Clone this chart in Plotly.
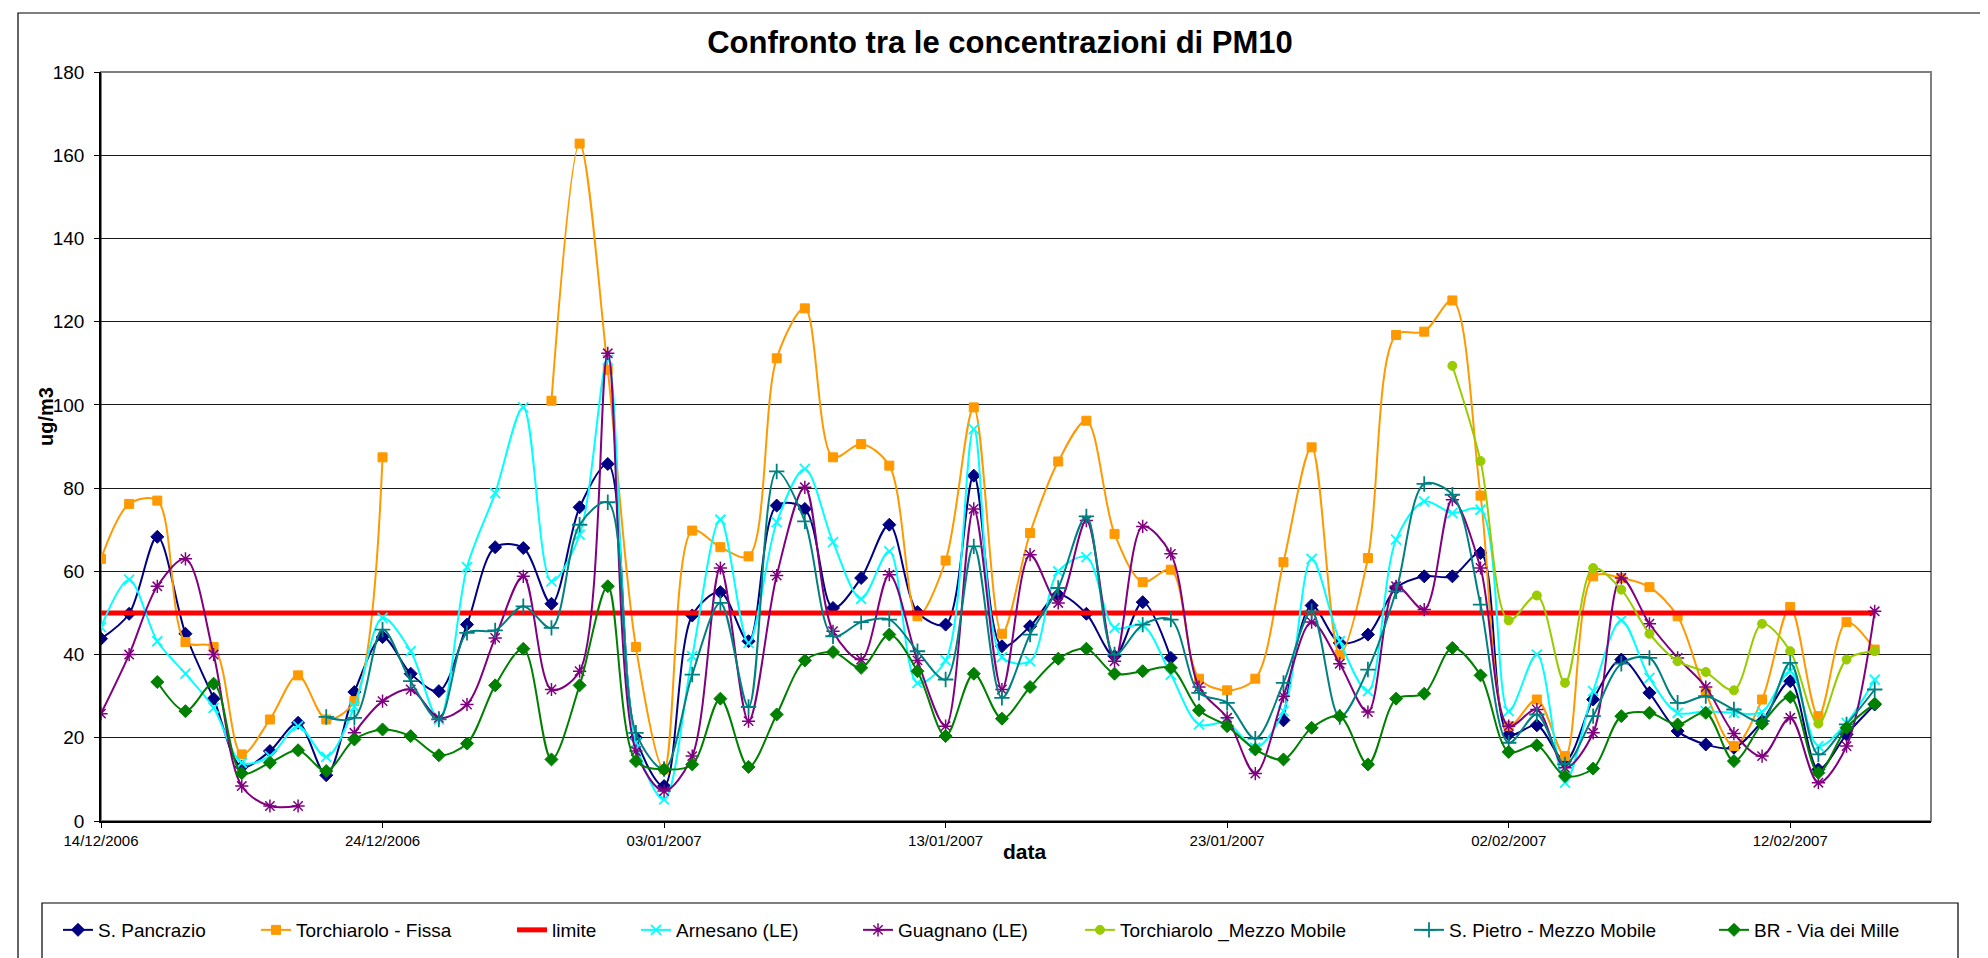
import pandas as pd
import plotly.graph_objects as go

N = None
dates = pd.date_range("2006-12-14", periods=64, freq="D")

s_pancrazio = [43.8, 49.8, 68.3, 45, 29.4, 13, 16.8, 23.6, 11, 31,
               44.2, 35.4, 31.2, 47.2, 65.8, 65.6, 52.2, 75.4, 85.8, 20,
               8.4, 49.4, 55, 43.2, 75.8, 75, 51.2, 58.4, 71.2, 50.2,
               47.2, 83, 42, 46.8, 54.4, 49.8, 39.6, 52.6, 39.2, N,
               N, N, 24.2, 51.8, 42.8, 44.8, 56, 58.8, 58.8, 64.4,
               20.8, 23, 14.4, 29.2, 38.8, 30.8, 21.6, 18.4, 17.6, 24,
               33.6, 12.4, 20.8, 28]

torchiarolo_fissa = [63, 76.2, 77, 43, 41.8, 16, 24.4, 35, 24.4, 28.8,
                     87.4, N, N, N, N, N, 101, 162.8, 108.4, 41.8,
                     12.4, 69.8, 65.8, 63.6, 111.2, 123.2, 87.4, 90.6, 85.4, 49.2,
                     62.6, 99.4, 45, 69.2, 86.4, 96.2, 69, 57.4, 60.4, 34.2,
                     31.4, 34.2, 62.2, 89.8, 40, 63.2, 116.8, 117.6, 125.1, 78.2,
                     22.8, 29.2, 15.6, 58.8, 58.4, 56.2, 49.2, 30.8, 18, 29.2,
                     51.4, 25.2, 47.8, 41.2]

limite = [50] * 64

arnesano = [46.6, 58, 43.2, 35.4, 27.2, 14, 15.6, 22.8, 15.4, 27.4,
            48.8, 40.8, 24.4, 61, 78.8, 99.4, 57.6, 68.8, 110.8, 18.8,
            5.2, 39.6, 72.4, 42.8, 71.8, 84.6, 67, 53.4, 64.8, 33.2,
            38.6, 94.2, 39.4, 38.4, 60, 63.4, 46.4, 47, 35.2, 23.2,
            23.6, 17.6, 26.4, 63, 43.2, 31.2, 67.6, 76.8, 74, 74.8,
            26.4, 40, 9.2, 31.2, 48.2, 34.4, 26, 26.4, 26, 26.2,
            36, 18, 23.6, 34]

guagnano = [25.8, 40, 56.4, 63, 40, 8.4, 3.6, 3.6, N, 21.2,
            28.8, 31.6, 24.8, 28, 44, 58.8, 31.6, 36, 112.4, 16.8,
            7.2, 15.6, 60.8, 24, 59, 80.2, 45.6, 38.8, 59.2, 38.6,
            22.8, 75, 31.6, 64, 52.4, 72.2, 38.4, 70.8, 64.2, 32.2,
            24.8, 11.4, 30, 47.8, 37.8, 26.2, 56.4, 50.8, 77.2, 60.8,
            22.8, 26.8, 12.8, 21.2, 58.4, 47.4, 39.2, 32.2, 21, 15.6,
            24.8, 9.2, 18, 50.4]

torchiarolo_mm = [N] * 48 + [109.4, 86.5, 48.2, 54.2, 33.2, 60.8, 55.6, 45,
                             38.4, 35.8, 31.4, 47.4, 40.8, 23.4, 38.8, 40.8]

s_pietro = [N, N, N, N, N, N, N, N, 25, 24.8,
            46, 33.6, 24.4, 45.2, 45.8, 51.6, 46.4, 71.2, 76.6, 21.2,
            12.5, 35.2, 52.4, 27.4, 84, 72, 44.4, 47.8, 48.4, 40.8,
            34, 66, 29.6, 44.8, 56, 73.2, 40, 47.2, 48.4, 30.8,
            28.4, 19.8, 33.2, 50.4, 25, 36.4, 55.2, 81, 78.4, 52,
            18.8, 25.6, 13.6, 25.2, 37.8, 39.2, 28.4, 30, 26.8, 24,
            38, 16, 23.2, 31.6]

br_mille = [N, N, 33.4, 26.4, 33, 11.5, 14, 17, 12, 19.6,
            22, 20.4, 15.8, 18.6, 32.6, 41.4, 14.8, 32.6, 56.4, 14.4,
            12.4, 13.6, 29.4, 13, 25.6, 38.6, 40.6, 36.8, 44.8, 36,
            20.4, 35.4, 24.6, 32.2, 39, 41.4, 35.4, 36, 36.8, 26.6,
            22.8, 17.2, 14.8, 22.4, 25.2, 13.6, 29.4, 30.6, 41.6, 35,
            16.6, 18.2, 10.8, 12.6, 25.2, 26, 23.2, 26, 14.4, 23.4,
            29.8, 11.6, 22.4, 28.2]

series = [
    ("S. Pancrazio", s_pancrazio, "#000080", "diamond", 10, 1.0),
    ("Torchiarolo - Fissa", torchiarolo_fissa, "#FF9900", "square", 9, 1.0),
    ("limite", limite, "#FF0000", None, 0, 5.0),
    ("Arnesano (LE)", arnesano, "#00FFFF", "x-thin-open", 10, 1.8),
    ("Guagnano (LE)", guagnano, "#800080", "asterisk-open", 11, 1.5),
    ("Torchiarolo _Mezzo Mobile", torchiarolo_mm, "#99CC00", "circle", 9, 1.0),
    ("S. Pietro - Mezzo Mobile", s_pietro, "#008080", "cross-thin-open", 11, 1.8),
    ("BR - Via dei Mille", br_mille, "#008000", "diamond", 10, 1.0),
]

W, H = 1988, 958
L, R, T, B = 93, 1923, 64, 813
pw, ph = R - L, B - T


def px(X):
    return (X - L) / pw


def py(Y):
    return (B - Y) / ph


# left edge (pixels) of each legend entry in the reference
legend_x = [50, 248, 504, 628, 850, 1072, 1401, 1706]

fig = go.Figure()
legends = {}
for i, (name, vals, col, sym, size, lw) in enumerate(series):
    lname = "legend" if i == 0 else f"legend{i + 1}"
    legends[lname] = dict(orientation="h", x=px(legend_x[i]), y=py(922),
                          xanchor="left", yanchor="middle",
                          font=dict(size=19, color="black"),
                          bgcolor="rgba(0,0,0,0)", borderwidth=0)
    if sym is None:
        fig.add_trace(go.Scatter(x=dates, y=vals, name=name, mode="lines",
                                 legend=lname,
                                 line=dict(color=col, width=5)))
    else:
        fig.add_trace(go.Scatter(
            x=dates, y=vals, name=name, mode="lines+markers", legend=lname,
            line=dict(color=col, width=2, shape="spline", smoothing=0.9),
            marker=dict(symbol=sym, size=size, color=col,
                        line=dict(color=col, width=lw))))

shapes = [
    # chart area border
    dict(type="rect", xref="paper", yref="paper", x0=px(10), x1=px(1979),
         y0=py(956), y1=py(5), line=dict(color="black", width=1.2), layer="below"),
    # plot area border (grey)
    dict(type="rect", xref="paper", yref="paper", x0=0, x1=1, y0=0, y1=1,
         line=dict(color="#808080", width=2), layer="below"),
    # legend box
    dict(type="rect", xref="paper", yref="paper", x0=px(34), x1=px(1950),
         y0=py(1000), y1=py(895), line=dict(color="black", width=1.2), layer="below"),
]

fig.update_layout(
    width=W, height=H,
    margin=dict(l=L, r=W - R, t=T, b=H - B),
    paper_bgcolor="white", plot_bgcolor="white",
    font=dict(family="Arial, Liberation Sans, sans-serif", color="black"),
    title=dict(text="<b>Confronto tra le concentrazioni di PM10</b>",
               x=px(992), xref="paper", xanchor="center",
               y=1 - 34 / H, yanchor="middle",
               font=dict(size=31, color="black")),
    showlegend=True,
    shapes=shapes,
    annotations=[
        dict(text="<b>ug/m3</b>", xref="paper", yref="paper", x=px(38), y=py(409),
             xanchor="center", yanchor="middle",
             textangle=-90, showarrow=False, font=dict(size=20)),
        dict(text="<b>data</b>", xref="paper", yref="paper", x=px(1017), y=py(843),
             xanchor="center", yanchor="middle",
             showarrow=False, font=dict(size=21)),
    ],
    **legends,
)

fig.update_xaxes(
    type="date", range=["2006-12-14", "2007-02-17"],
    tick0="2006-12-14", dtick=10 * 86400000, tickformat="%d/%m/%Y",
    showgrid=False, zeroline=False,
    showline=True, linecolor="black", linewidth=2,
    ticks="outside", ticklen=5, tickcolor="black",
    tickfont=dict(size=15),
)
fig.update_yaxes(
    range=[0, 180], dtick=20, tick0=0,
    showgrid=True, gridcolor="#1a1a1a", gridwidth=1,
    zeroline=False,
    showline=True, linecolor="black", linewidth=1.5,
    ticks="outside", ticklen=5, tickcolor="black",
    ticklabelstandoff=6,
    tickfont=dict(size=19),
)

fig.write_html("out.html")
